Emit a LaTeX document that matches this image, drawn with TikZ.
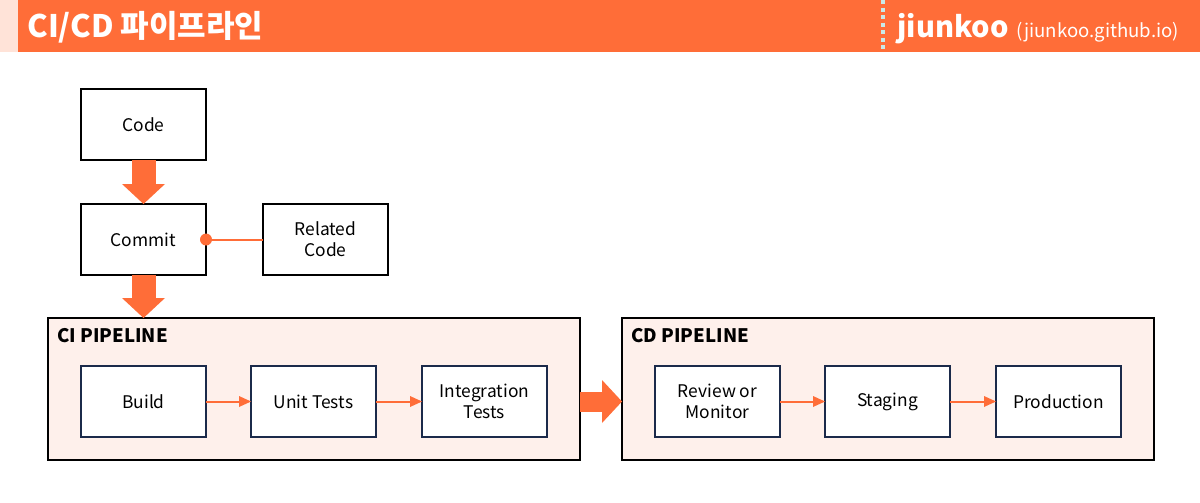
\documentclass[tikz,border=0pt]{standalone}
\usepackage{fontspec}
\setmainfont{Noto Sans CJK KR}
\usetikzlibrary{positioning,arrows.meta}
\definecolor{accent}{HTML}{FF6D38}
\definecolor{peach}{HTML}{FFE3D8}
\definecolor{pipefill}{HTML}{FEF0EB}
\definecolor{navy}{HTML}{1B2A4A}
\definecolor{dotline}{HTML}{C9E9E6}

\begin{document}
\begin{tikzpicture}[x=0.5pt, y=-0.5pt, font=\fontsize{8.7}{10.5}\selectfont,
		box/.style={draw, line width=0.6pt, fill=white, minimum width=62.5pt, minimum height=35.5pt, inner sep=0pt, outer sep=0pt, align=center},
		stage/.style={box, draw=navy},
		pipe/.style={draw, line width=0.6pt, fill=pipefill, minimum width=266pt, minimum height=71pt, inner sep=0pt, outer sep=0pt},
		pipelabel/.style={anchor=base west, inner sep=0pt, font=\bfseries\fontsize{9.3}{10.5}\selectfont},
		big/.style={accent, line width=12pt, -{Triangle[width=21.5pt, length=10pt, line width=0pt]}},
		flow/.style={accent, line width=1pt, -{Triangle[width=5.5pt, length=6pt, line width=0pt]}},
		link/.style={accent, line width=1pt}]
		\useasboundingbox (0,0) rectangle (1200,503);

		% header
		\fill[peach] (0,0) rectangle (18,52);
		\fill[accent] (18,0) rectangle (1200,52);
		\draw[dotline, line width=2pt, dash pattern=on 2pt off 1.75pt] (883,0) -- (883,50);
		\node[anchor=base west, inner sep=0pt, text=white, font=\bfseries\fontsize{15.5}{15.5}\selectfont] (title) at (27,37) {CI/CD 파이프라인};
		\node[anchor=base west, inner sep=0pt, text=white] (site) at (897,37) {{\bfseries\fontsize{14.5}{14.5}\selectfont jiunkoo}\hspace{4pt}{\fontsize{9.3}{9.3}\selectfont (jiunkoo.github.io)}};

		\node [box] (code) at (143.5,124.5) {Code};
		\node [box, below=22pt of code] (commit) {Commit};
		\node [box, right=28.5pt of commit] (related) {Related\\Code};

		\node [pipe] (ci) at (314,389) {};
		\node [pipe, right=21pt of ci] (cd) {};
		\node [pipelabel] (cilabel) at (57,342) {CI PIPELINE};
		\node [pipelabel] (cdlabel) at (631,342) {CD PIPELINE};

		\node [stage] (build) at (143.5,401.5) {Build};
		\node [stage, right=22.5pt of build] (unit) {Unit Tests};
		\node [stage, right=23pt of unit] (integ) {Integration\\Tests};
		\node [stage, right=54pt of integ] (review) {Review or\\Monitor};
		\node [stage, right=22.5pt of review] (staging) {Staging};
		\node [stage, right=23pt of staging] (prod) {Production};

		\draw[big] (code) -- (commit);
		\draw[big] (commit.south) -- (commit.south |- ci.north);
		\draw[big, line width=10pt] (ci.east |- integ) -- (cd.west |- review);

		\draw[link, {Circle[length=6pt, line width=0pt]}-, shorten <=-3pt] (commit) -- (related);

		\draw[flow] (build) -- (unit);
		\draw[flow] (unit) -- (integ);
		\draw[flow] (review) -- (staging);
		\draw[flow] (staging) -- (prod);
	\end{tikzpicture}
\end{document}
